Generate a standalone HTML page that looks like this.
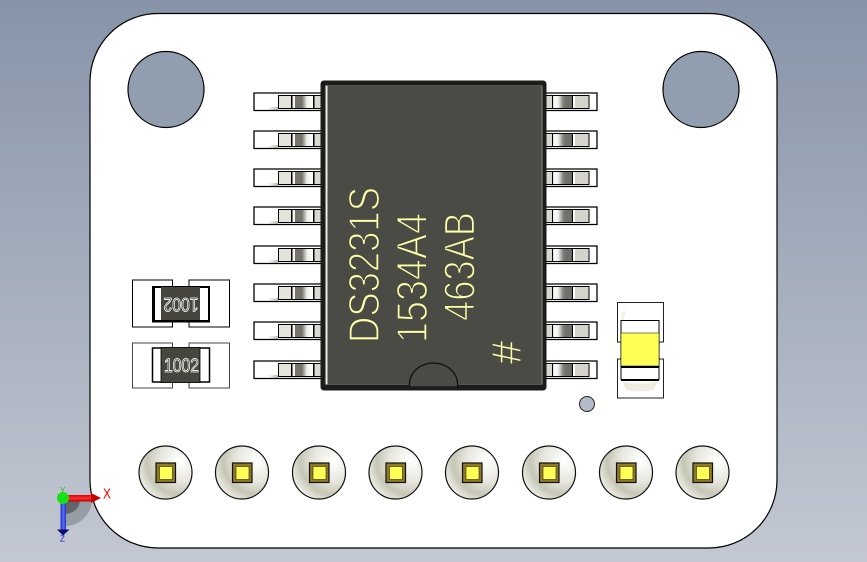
<!DOCTYPE html>
<html><head><meta charset="utf-8"><style>
html,body{margin:0;padding:0;width:867px;height:562px;overflow:hidden}
svg{display:block}
</style></head><body>
<svg xmlns="http://www.w3.org/2000/svg" width="867" height="562" viewBox="0 0 867 562">
<defs>
<linearGradient id="bg" x1="0" y1="0" x2="0" y2="1"><stop offset="0" stop-color="#8794a8"/><stop offset="1" stop-color="#c3c8d2"/></linearGradient>
<linearGradient id="pl" x1="0" y1="0" x2="1" y2="0"><stop offset="0" stop-color="#77776e"/><stop offset=".45" stop-color="#ecece6"/><stop offset="1" stop-color="#fff"/></linearGradient>
<linearGradient id="pr" x1="0" y1="0" x2="1" y2="0"><stop offset="0" stop-color="#fff"/><stop offset=".45" stop-color="#eee"/><stop offset="1" stop-color="#6e6e66"/></linearGradient>
<linearGradient id="sh" x1="0" y1="0" x2="1" y2="0"><stop offset="0" stop-color="#fff"/><stop offset="1" stop-color="#bdbdb2"/></linearGradient>
<linearGradient id="blue" x1="0" y1="0" x2="1" y2="0"><stop offset="0" stop-color="#1c2ec8"/><stop offset=".55" stop-color="#5a70f0"/><stop offset="1" stop-color="#1c2ec8"/></linearGradient>
<linearGradient id="red" x1="0" y1="0" x2="0" y2="1"><stop offset="0" stop-color="#e00000"/><stop offset=".5" stop-color="#ff3030"/><stop offset="1" stop-color="#b80000"/></linearGradient>
<radialGradient id="ball" cx=".78" cy=".28" r=".85"><stop offset="0" stop-color="#fff"/><stop offset=".45" stop-color="#e8e8e0"/><stop offset=".75" stop-color="#c6c6b6"/><stop offset="1" stop-color="#eeeee6"/></radialGradient>
<g id="lp">
<rect x="268" y="14" width="10" height="3" fill="url(#sh)"/>
<path d="M321 0H254V17.500H321" fill="none" stroke="#000" stroke-width="1.300"/>
<rect x="278.500" y="2.500" width="43" height="13" fill="#d8d8d0" stroke="#000" stroke-width="1"/>
<rect x="279" y="3" width="12" height="12" fill="#e4e4db"/>
<rect x="291" y="3" width="1.500" height="12" fill="#000"/>
<rect x="292.500" y="3" width="2.500" height="12" fill="#f4f4f0"/>
<rect x="295" y="3" width="7" height="12" fill="#75756c"/>
<rect x="302" y="3" width="11" height="12" fill="url(#pl)"/>
<rect x="313" y="3" width="1.500" height="12" fill="#000"/>
<rect x="314.500" y="3" width="6.500" height="12" fill="#d8d8d0"/>
</g>
<g id="rp">
<path d="M546 0H597V17.500H546" fill="#fff" stroke="#000" stroke-width="1.300"/>
<rect x="546" y="2.500" width="43" height="13" fill="#d8d8d0" stroke="#000" stroke-width="1"/>
<rect x="546" y="3" width="6" height="12" fill="#d8d8d0"/>
<rect x="552" y="3" width="1.200" height="12" fill="#000"/>
<rect x="553.200" y="3" width="11" height="12" fill="url(#pr)"/>
<rect x="564.200" y="3" width="7.600" height="12" fill="#70706a"/>
<rect x="571.800" y="3" width="1.200" height="12" fill="#000"/>
<rect x="573" y="3" width="2" height="12" fill="#fff"/>
<rect x="575" y="3" width="13.500" height="12" fill="#d4d4cc"/>
</g>
<g id="pad">
<circle r="26.500" fill="url(#ball)" stroke="#111" stroke-width="1.200"/>
<rect x="-9.500" y="-9.500" width="19.500" height="19.500" fill="#8e7a2c" stroke="#111" stroke-width="1.200"/>
<rect x="-6" y="-6" width="13" height="13" fill="#ffff55" stroke="#4a3e12" stroke-width=".7"/>
</g>
</defs>
<rect width="867" height="562" fill="url(#bg)"/>

<!-- board -->
<path d="M158 13.500H709A68 68 0 0 1 777 81.500V480A68 68 0 0 1 709 548H158A68 68 0 0 1 90 480V81.500A68 68 0 0 1 158 13.500Z" fill="#fff" stroke="#000" stroke-width="1.200"/>

<!-- holes -->
<circle cx="166" cy="89.500" r="38" fill="#919eb0" stroke="#000" stroke-width="1.200"/>
<circle cx="701" cy="89.500" r="38" fill="#919eb0" stroke="#000" stroke-width="1.200"/>

<!-- pins -->
<use href="#lp" y="93"/><use href="#lp" y="131"/><use href="#lp" y="169"/><use href="#lp" y="207"/><use href="#lp" y="246"/><use href="#lp" y="284"/><use href="#lp" y="322"/><use href="#lp" y="361"/>
<use href="#rp" y="93"/><use href="#rp" y="131"/><use href="#rp" y="169"/><use href="#rp" y="207"/><use href="#rp" y="246"/><use href="#rp" y="284"/><use href="#rp" y="322"/><use href="#rp" y="361"/>

<!-- chip -->
<rect x="320.500" y="80.500" width="226" height="310" rx="3.500" fill="#1c1c1a"/>
<rect x="325.500" y="85.500" width="217" height="299" fill="#8a8b84"/>
<rect x="325.500" y="85.500" width="2" height="299" fill="#ecece4"/>
<rect x="327.500" y="86" width="214" height="298" fill="#4a4b45"/>
<path d="M409.500 387V384A24 21 0 0 1 457.500 384V387Z" fill="#4a4b45" stroke="#111" stroke-width="1.300"/>
<rect x="409" y="387" width="49" height="3" fill="#1c1c1a"/>

<!-- chip text -->
<g fill="#ffffa8" stroke="#4a4b45" stroke-width="1.500" font-family="'Liberation Sans',sans-serif">
<text transform="translate(379,343) rotate(-90)" font-size="43.500" textLength="156" lengthAdjust="spacingAndGlyphs">DS3231S</text>
<text transform="translate(427,343) rotate(-90)" font-size="43.500" textLength="130" lengthAdjust="spacingAndGlyphs">1534A4</text>
<text transform="translate(474.500,321) rotate(-90)" font-size="43.500" textLength="109" lengthAdjust="spacingAndGlyphs">463AB</text>
<text transform="translate(521,364) rotate(-90)" font-size="42" stroke-width=".7">#</text>
</g>

<!-- resistor top -->
<path d="M172.500 286V280H132.500V327H172.500V321M189 286V280H229.500V327H189V321" fill="#fff" stroke="#000" stroke-width="1"/>
<rect x="153" y="287" width="56" height="34.500" fill="#fff" stroke="#000" stroke-width="2"/>
<rect x="161" y="287" width="39" height="34" fill="#46463f"/>
<rect x="152" y="320" width="58" height="2.500" fill="#000"/>
<rect x="152" y="286" width="3" height="36" fill="#000"/>
<text transform="translate(198.500,298) rotate(180)" font-family="'Liberation Sans',sans-serif" font-size="19" fill="#3c3c36" stroke="#fff" stroke-width=".8" textLength="35" lengthAdjust="spacingAndGlyphs">1002</text>

<!-- resistor bottom -->
<path d="M172.500 348V343H132.500V388H172.500V382M189 348V343H229.500V388H189V382" fill="#fff" stroke="#444" stroke-width="1"/>
<rect x="152.500" y="348" width="57" height="34" fill="#fff" stroke="#000" stroke-width="1.500"/>
<rect x="161" y="347.500" width="39" height="35" fill="#46463f" stroke="#000" stroke-width=".8"/>
<text x="164" y="372" font-family="'Liberation Sans',sans-serif" font-size="19" fill="#3c3c36" stroke="#fff" stroke-width=".8" textLength="35" lengthAdjust="spacingAndGlyphs">1002</text>

<!-- LED -->
<path d="M621 342H617.500V302.500H663.500V342H659M621 359H617.500V398H663.500V359H659" fill="#fff" stroke="#222" stroke-width="1"/>
<path d="M622 381Q640 386 658 381L654 390Q640 393 626 390Z" fill="#e6e6d8" opacity=".7"/>
<path d="M622 311L626 311L624 320L621 320Z" fill="#eeeedd" opacity=".7"/>
<rect x="621" y="320.500" width="38" height="59" fill="#fff" stroke="#000" stroke-width="1"/>
<rect x="621" y="333" width="38" height="33" fill="#ffff55" stroke="#000" stroke-width=".5"/>
<rect x="621" y="366" width="38" height="2" fill="#000"/>
<rect x="621" y="379" width="38" height="2" fill="#000"/>

<!-- dot -->
<circle cx="587" cy="404" r="7.500" fill="#b3bac8" stroke="#222" stroke-width="1"/>

<!-- pads -->
<use href="#pad" x="165.500" y="472.500"/><use href="#pad" x="242" y="472.500"/><use href="#pad" x="319" y="472.500"/><use href="#pad" x="395.500" y="472.500"/><use href="#pad" x="472" y="472.500"/><use href="#pad" x="549" y="472.500"/><use href="#pad" x="626" y="472.500"/><use href="#pad" x="702.500" y="472.500"/>

<!-- triad -->
<path d="M65 500H92A27 27 0 0 1 65 526Z" fill="#000" opacity=".2"/>
<path d="M65 500H80A15 14 0 0 1 65 514Z" fill="#000" opacity=".35"/>
<rect x="66" y="495" width="26" height="6.500" fill="url(#red)"/>
<path d="M91 493L101 498L91 503Z" fill="#c80000"/>
<rect x="60.500" y="502" width="5.500" height="28" fill="url(#blue)"/>
<path d="M57 529.500H69.500L63 535.500Z" fill="#0a0a70"/>
<circle cx="63" cy="498" r="6" fill="#18e018"/>
<text x="103" y="498.500" font-family="'Liberation Sans',sans-serif" font-size="15" fill="#f00000" textLength="8" lengthAdjust="spacingAndGlyphs">X</text>
<text x="60" y="493" font-family="'Liberation Sans',sans-serif" font-size="8" fill="#18c018">Y</text>
<text x="60" y="541.500" font-family="'Liberation Sans',sans-serif" font-size="8" fill="#1414d8">Z</text>
</svg>
</body></html>
